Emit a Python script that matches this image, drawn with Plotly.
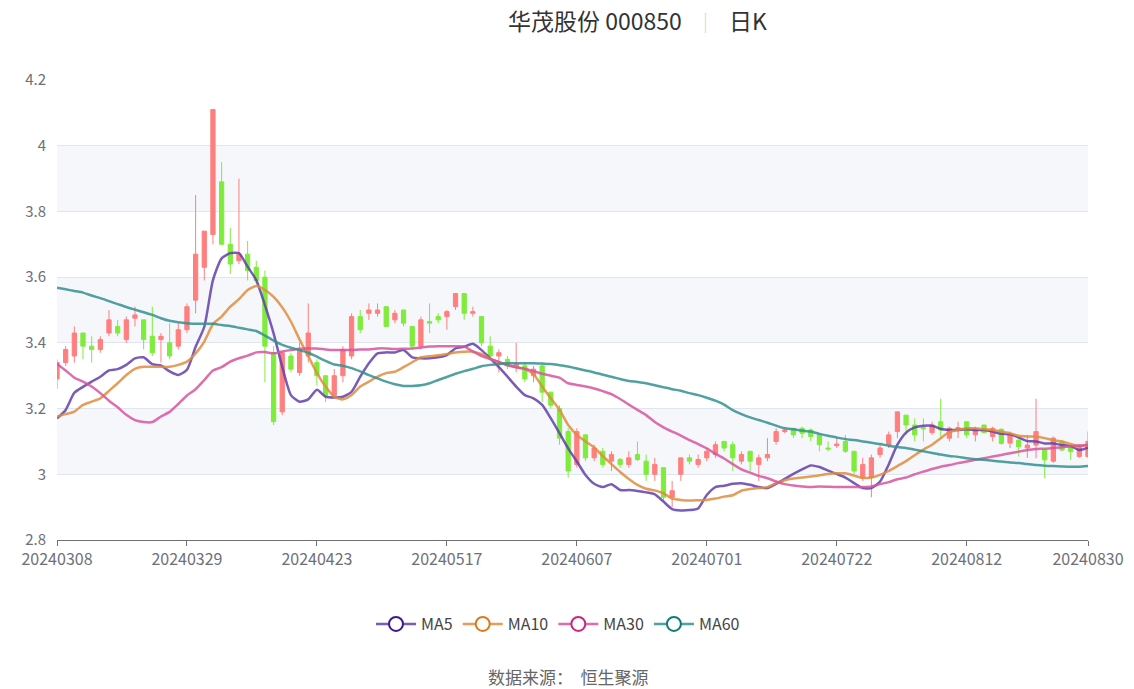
import plotly.graph_objects as go

# ---------------- data ----------------
months = {
    "202403": ["08", "11", "12", "13", "14", "15", "18", "19", "20", "21", "22", "25", "26", "27", "28", "29"],
    "202404": ["01", "02", "03", "08", "09", "10", "11", "12", "15", "16", "17", "18", "19", "22", "23", "24", "25", "26", "29", "30"],
    "202405": ["06", "07", "08", "09", "10", "13", "14", "15", "16", "17", "20", "21", "22", "23", "24", "27", "28", "29", "30", "31"],
    "202406": ["03", "04", "05", "06", "07", "11", "12", "13", "14", "17", "18", "19", "20", "21", "24", "25", "26", "27", "28"],
    "202407": ["01", "02", "03", "04", "05", "08", "09", "10", "11", "12", "15", "16", "17", "18", "19", "22", "23", "24", "25", "26", "29", "30", "31"],
    "202408": ["01", "02", "05", "06", "07", "08", "09", "12", "13", "14", "15", "16", "19", "20", "21", "22", "23", "26", "27", "28", "29", "30"],
}
dates = [m + d for m, days in months.items() for d in days]

open_ = [3.29, 3.34, 3.36, 3.43, 3.39, 3.38, 3.43, 3.45, 3.41, 3.475,
         3.47, 3.42, 3.41, 3.40, 3.39, 3.44, 3.53, 3.63, 3.73, 3.89,
         3.70, 3.65, 3.67, 3.63, 3.60, 3.37, 3.19, 3.36, 3.31, 3.36,
         3.34, 3.30, 3.24, 3.30, 3.36, 3.48, 3.49, 3.49, 3.51, 3.47,
         3.50, 3.45, 3.39, 3.465, 3.48, 3.48, 3.51, 3.55, 3.49, 3.48,
         3.39, 3.36, 3.35, 3.325, 3.33, 3.30, 3.33, 3.25, 3.20, 3.13,
         3.03, 3.12, 3.05, 3.07, 3.04, 3.045, 3.03, 3.06, 3.04, 3.00,
         3.02, 2.93, 3.00, 3.05, 3.03, 3.05, 3.06, 3.10, 3.09, 3.04,
         3.07, 3.03, 3.05, 3.10, 3.13, 3.14, 3.14, 3.135, 3.12, 3.08,
         3.087, 3.10, 3.07, 2.99, 2.99, 3.06, 3.09, 3.13, 3.18, 3.15,
         3.142, 3.127, 3.16, 3.11, 3.138, 3.16, 3.12, 3.15, 3.115, 3.137,
         3.095, 3.104, 3.08, 3.089, 3.074, 3.04, 3.10, 3.084, 3.054, 3.054]
close = [3.34, 3.38, 3.43, 3.39, 3.38, 3.41, 3.47, 3.43, 3.47, 3.485,
         3.41, 3.37, 3.42, 3.36, 3.44, 3.51, 3.67, 3.74, 4.11, 3.70,
         3.64, 3.67, 3.62, 3.59, 3.39, 3.16, 3.37, 3.32, 3.38, 3.43,
         3.30, 3.24, 3.30, 3.38, 3.48, 3.44, 3.50, 3.50, 3.45, 3.49,
         3.46, 3.39, 3.47, 3.46, 3.47, 3.495, 3.55, 3.49, 3.495, 3.40,
         3.36, 3.37, 3.33, 3.335, 3.29, 3.32, 3.25, 3.21, 3.11, 3.01,
         3.13, 3.05, 3.08, 3.03, 3.06, 3.03, 3.05, 3.045, 3.00, 3.03,
         2.93, 2.95, 3.05, 3.04, 3.045, 3.07, 3.09, 3.08, 3.05, 3.06,
         3.04, 3.05, 3.06, 3.13, 3.135, 3.12, 3.125, 3.115, 3.09, 3.077,
         3.092, 3.07, 3.01, 3.03, 3.05, 3.08, 3.12, 3.19, 3.15, 3.12,
         3.138, 3.15, 3.135, 3.14, 3.142, 3.12, 3.138, 3.127, 3.14, 3.094,
         3.123, 3.084, 3.089, 3.13, 3.044, 3.11, 3.074, 3.069, 3.089, 3.10]
high = [3.35, 3.39, 3.45, 3.43, 3.42, 3.42, 3.50, 3.47, 3.48, 3.51,
        3.47, 3.51, 3.43, 3.46, 3.46, 3.52, 3.85, 3.74, 4.11, 3.95,
        3.75, 3.90, 3.71, 3.65, 3.62, 3.39, 3.37, 3.37, 3.40, 3.52,
        3.35, 3.30, 3.32, 3.39, 3.49, 3.50, 3.52, 3.52, 3.51, 3.50,
        3.50, 3.45, 3.48, 3.52, 3.49, 3.50, 3.55, 3.55, 3.51, 3.48,
        3.42, 3.38, 3.36, 3.40, 3.34, 3.33, 3.34, 3.25, 3.21, 3.14,
        3.14, 3.12, 3.09, 3.08, 3.07, 3.05, 3.07, 3.10, 3.06, 3.05,
        3.02, 2.98, 3.05, 3.06, 3.06, 3.08, 3.10, 3.10, 3.10, 3.07,
        3.07, 3.06, 3.11, 3.14, 3.14, 3.14, 3.145, 3.14, 3.12, 3.10,
        3.11, 3.12, 3.07, 3.05, 3.06, 3.09, 3.13, 3.19, 3.18, 3.17,
        3.17, 3.16, 3.23, 3.145, 3.16, 3.16, 3.145, 3.15, 3.145, 3.14,
        3.13, 3.104, 3.12, 3.23, 3.074, 3.115, 3.105, 3.084, 3.09, 3.13]
low = [3.26, 3.33, 3.34, 3.35, 3.34, 3.37, 3.42, 3.42, 3.40, 3.45,
       3.38, 3.36, 3.34, 3.35, 3.38, 3.43, 3.49, 3.59, 3.70, 3.70,
       3.61, 3.64, 3.59, 3.58, 3.28, 3.15, 3.18, 3.31, 3.30, 3.34,
       3.27, 3.22, 3.24, 3.28, 3.35, 3.43, 3.47, 3.48, 3.45, 3.46,
       3.45, 3.38, 3.38, 3.43, 3.46, 3.44, 3.50, 3.47, 3.48, 3.39,
       3.35, 3.31, 3.32, 3.31, 3.28, 3.28, 3.22, 3.20, 3.09, 2.99,
       3.02, 3.04, 3.04, 3.02, 3.01, 3.02, 3.02, 3.04, 2.98, 2.98,
       2.92, 2.90, 2.98, 3.03, 3.02, 3.04, 3.05, 3.07, 3.01, 3.03,
       3.01, 2.98, 3.04, 3.09, 3.125, 3.11, 3.11, 3.10, 3.07, 3.07,
       3.08, 3.065, 3.00, 2.98, 2.93, 3.05, 3.08, 3.11, 3.12, 3.10,
       3.10, 3.12, 3.11, 3.10, 3.11, 3.11, 3.10, 3.125, 3.10, 3.09,
       3.08, 3.054, 3.05, 3.049, 2.988, 3.035, 3.07, 3.044, 3.05, 3.049]

ma5 = [3.17, 3.196, 3.248, 3.266, 3.282, 3.297, 3.316, 3.32, 3.333, 3.353,
       3.356, 3.335, 3.331, 3.313, 3.302, 3.318, 3.388, 3.449, 3.591, 3.657,
       3.673, 3.673, 3.632, 3.591, 3.515, 3.429, 3.327, 3.241, 3.221, 3.228,
       3.257, 3.236, 3.234, 3.236, 3.251, 3.297, 3.338, 3.368, 3.371, 3.371,
       3.378, 3.356, 3.353, 3.353, 3.356, 3.363, 3.383, 3.388, 3.397, 3.378,
       3.353, 3.326, 3.297, 3.267, 3.241, 3.231, 3.211, 3.17, 3.125, 3.079,
       3.039, 2.998, 2.971, 2.961, 2.97, 2.952, 2.952, 2.949, 2.945, 2.939,
       2.917, 2.894, 2.89, 2.891, 2.896, 2.937, 2.961, 2.965, 2.971, 2.973,
       2.968, 2.961, 2.958, 2.971, 2.986, 3.001, 3.015, 3.027, 3.022, 3.011,
       3.001, 2.99, 2.973, 2.958, 2.958, 2.978, 3.03, 3.09, 3.127, 3.143,
       3.148, 3.148, 3.138, 3.135, 3.135, 3.137, 3.135, 3.135, 3.13, 3.123,
       3.122, 3.112, 3.101, 3.10, 3.094, 3.094, 3.089, 3.086, 3.074, 3.081]
ma10 = [3.176, 3.183, 3.191, 3.211, 3.221, 3.231, 3.254, 3.277, 3.302, 3.321,
        3.327, 3.327, 3.327, 3.327, 3.333, 3.343, 3.368, 3.404, 3.457, 3.48,
        3.51, 3.533, 3.561, 3.573, 3.561, 3.54, 3.508, 3.465, 3.41, 3.36,
        3.308, 3.267, 3.236, 3.228, 3.241, 3.267, 3.282, 3.297, 3.308, 3.312,
        3.326, 3.341, 3.356, 3.359, 3.362, 3.366, 3.371, 3.373, 3.373, 3.366,
        3.352, 3.341, 3.333, 3.326, 3.32, 3.305, 3.267, 3.231, 3.196, 3.15,
        3.12, 3.10, 3.082, 3.055, 3.031, 3.007, 2.986, 2.968, 2.956, 2.951,
        2.942, 2.926, 2.922, 2.92, 2.921, 2.922, 2.926, 2.932, 2.936, 2.95,
        2.955, 2.958, 2.961, 2.973, 2.982, 2.987, 2.99, 2.993, 2.997, 3.001,
        3.003, 3.003, 2.996, 2.989, 2.99, 2.998, 3.01, 3.025, 3.04, 3.058,
        3.075, 3.09, 3.11, 3.128, 3.135, 3.14, 3.14, 3.137, 3.135, 3.13,
        3.125, 3.117, 3.115, 3.115, 3.11, 3.104, 3.10, 3.092, 3.086, 3.09]
ma30 = [3.336, 3.316, 3.294, 3.282, 3.267, 3.247, 3.224, 3.204, 3.181, 3.165,
        3.159, 3.159, 3.176, 3.19, 3.214, 3.24, 3.259, 3.287, 3.316, 3.326,
        3.343, 3.353, 3.361, 3.371, 3.372, 3.368, 3.374, 3.378, 3.382, 3.383,
        3.383, 3.38, 3.378, 3.378, 3.378, 3.38, 3.38, 3.383, 3.383, 3.381,
        3.382, 3.383, 3.386, 3.389, 3.39, 3.39, 3.39, 3.389, 3.374, 3.36,
        3.351, 3.342, 3.332, 3.326, 3.321, 3.314, 3.306, 3.30, 3.294, 3.277,
        3.272, 3.267, 3.261, 3.253, 3.244, 3.229, 3.212, 3.196, 3.18, 3.159,
        3.143, 3.13, 3.118, 3.104, 3.092, 3.079, 3.062, 3.048, 3.031, 3.015,
        3.005, 2.995, 2.988, 2.978, 2.97, 2.966, 2.963, 2.961, 2.963, 2.962,
        2.961, 2.961, 2.961, 2.961, 2.963, 2.97, 2.976, 2.985, 2.99, 3.0,
        3.008, 3.016, 3.023, 3.028, 3.034, 3.039, 3.044, 3.049, 3.054, 3.059,
        3.064, 3.069, 3.074, 3.077, 3.078, 3.08, 3.082, 3.085, 3.087, 3.089]
ma60 = [3.568, 3.563, 3.558, 3.553, 3.544, 3.536, 3.527, 3.518, 3.509, 3.501,
        3.493, 3.485, 3.475, 3.467, 3.463, 3.46, 3.458, 3.458, 3.458, 3.454,
        3.451, 3.446, 3.441, 3.436, 3.422, 3.407, 3.394, 3.385, 3.378, 3.37,
        3.358, 3.345, 3.334, 3.33, 3.323, 3.313, 3.302, 3.292, 3.282, 3.274,
        3.269, 3.269, 3.271, 3.277, 3.287, 3.296, 3.306, 3.314, 3.321, 3.329,
        3.333, 3.336, 3.338, 3.338, 3.338, 3.338, 3.337, 3.336, 3.332, 3.328,
        3.322, 3.316, 3.31, 3.303, 3.297, 3.29, 3.284, 3.281, 3.277, 3.271,
        3.265, 3.259, 3.254, 3.247, 3.241, 3.233, 3.224, 3.212, 3.195, 3.183,
        3.173, 3.165, 3.157, 3.148, 3.14, 3.137, 3.133, 3.13, 3.123, 3.117,
        3.112, 3.107, 3.104, 3.10, 3.096, 3.092, 3.087, 3.083, 3.08, 3.075,
        3.07, 3.065, 3.06, 3.056, 3.053, 3.049, 3.046, 3.044, 3.041, 3.039,
        3.036, 3.034, 3.031, 3.028, 3.026, 3.025, 3.024, 3.023, 3.023, 3.025]

y_ticks = [2.8, 3.0, 3.2, 3.4, 3.6, 3.8, 4.0, 4.2]
y_tick_text = ["2.8", "3", "3.2", "3.4", "3.6", "3.8", "4", "4.2"]
x_tick_idx = [0, 15, 30, 45, 60, 75, 90, 105, 119]

ma_series = [
    ("MA5", ma5, "rgba(96,64,170,0.85)", "#3d1a8c"),
    ("MA10", ma10, "rgba(225,140,60,0.85)", "#e07818"),
    ("MA30", ma30, "rgba(215,85,160,0.85)", "#d0237f"),
    ("MA60", ma60, "rgba(50,145,145,0.85)", "#137a7a"),
]

UP = "#ff7f7f"
DOWN = "#7fec3c"

W, H = 1134, 689
PL, PR, PT, PB = 57, 1088, 80, 540          # plot area in page pixels
plot_h = PB - PT
plot_w = PR - PL


def py(page_y):
    return (PB - page_y) / plot_h


def px(page_x):
    return (page_x - PL) / plot_w


# ---------------- figure ----------------
fig = go.Figure()

fig.add_trace(go.Candlestick(
    x=dates, open=open_, high=high, low=low, close=close,
    increasing=dict(line=dict(color=UP, width=1), fillcolor=UP),
    decreasing=dict(line=dict(color=DOWN, width=1), fillcolor=DOWN),
    showlegend=False, whiskerwidth=0,
))

for name, vals, lc, mc in ma_series:
    fig.add_trace(go.Scatter(
        x=dates, y=vals, mode="lines", name=name,
        line=dict(color=lc, width=2.5, shape="spline", smoothing=0.6),
        showlegend=False, hoverinfo="skip",
    ))
    fig.add_trace(go.Scatter(
        x=[None], y=[None], mode="lines+markers", name=name,
        line=dict(color=lc, width=2.5),
        marker=dict(symbol="circle", size=14, color="white",
                    line=dict(color=mc, width=2)),
        showlegend=True,
    ))

# alternating split-area bands
band_colors = ["#ffffff", "#f5f7fb"]
shapes = []
for i in range(len(y_ticks) - 1):
    shapes.append(dict(type="rect", xref="paper", yref="y", x0=0, x1=1,
                       y0=y_ticks[i], y1=y_ticks[i + 1],
                       fillcolor=band_colors[i % 2], line=dict(width=0),
                       layer="below"))

fig.update_layout(
    width=W, height=H,
    margin=dict(l=PL, r=W - PR, t=PT, b=H - PB, autoexpand=False),
    paper_bgcolor="white", plot_bgcolor="white",
    font=dict(family="Noto Sans CJK SC, Noto Sans, sans-serif", color="#666"),
    shapes=shapes,
    showlegend=True,
    legend=dict(orientation="h", x=px(558), xanchor="center", y=py(624), yanchor="middle",
                font=dict(size=16, color="#444"), itemwidth=40,
                bgcolor="rgba(0,0,0,0)"),
    xaxis=dict(
        type="category", range=[0, len(dates) - 1],
        rangeslider=dict(visible=False),
        tickmode="array", tickvals=[dates[i] for i in x_tick_idx],
        ticktext=[dates[i] for i in x_tick_idx],
        showgrid=False, showline=True, linecolor="#6e7079", linewidth=1,
        ticks="outside", ticklen=5, tickcolor="#6e7079",
        tickfont=dict(size=16, color="#6e7079"),
        zeroline=False,
    ),
    yaxis=dict(
        range=[2.8, 4.2], tickmode="array", tickvals=y_ticks, ticktext=y_tick_text,
        showgrid=True, gridcolor="#e0e6f1", gridwidth=1,
        showline=False, zeroline=False,
        tickfont=dict(size=15, color="#6e7079"), ticks="", ticklabelstandoff=10,
    ),
    annotations=[
        dict(text="华茂股份 000850", xref="paper", yref="paper", x=px(684), y=py(20),
             xanchor="right", yanchor="middle", showarrow=False,
             font=dict(size=23, color="#333")),
        dict(text="|", xref="paper", yref="paper", x=px(705), y=py(20),
             xanchor="center", yanchor="middle", showarrow=False,
             font=dict(size=18, color="#dddddd")),
        dict(text="日K", xref="paper", yref="paper", x=px(727), y=py(20),
             xanchor="left", yanchor="middle", showarrow=False,
             font=dict(size=23, color="#333")),
        dict(text="数据来源：  恒生聚源", xref="paper", yref="paper", x=px(568), y=py(676),
             xanchor="center", yanchor="middle", showarrow=False,
             font=dict(size=17, color="#666")),
    ],
)

fig.write_html("out.html", config={"displayModeBar": False},
               post_script="document.body.style.margin='0px';document.body.style.overflow='hidden';")
